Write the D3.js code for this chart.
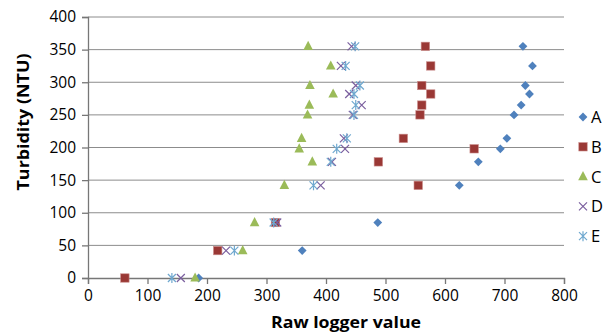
<!DOCTYPE html>
<html>
<head>
<meta charset="utf-8">
<script src="https://cdn.jsdelivr.net/npm/d3@7"></script>
<style>
  body { margin: 0; background: #fff; }
  text { font-family: "Open Sans", "Noto Sans", sans-serif; }
</style>
</head>
<body>
<div id="chart"></div>
<script>
// turbidity standards (NTU) and the raw logger readings for each logger
const turbidity = [0, 42, 85, 142, 178, 198, 214, 250, 265, 282, 295, 325, 355];
const loggerA = [186, 360, 487, 624, 656, 693, 704, 716, 728, 742, 735, 747, 731];
const loggerB = [62, 218, 315, 555, 488, 649, 530, 558, 561, 576, 561, 576, 567];
const loggerC = [180, 260, 280, 330, 377, 355, 359, 369, 372, 412, 373, 408, 370];
const loggerD = [156, 232, 318, 391, 410, 432, 430, 445, 460, 439, 450, 425, 443];
const loggerE = [141, 246, 312, 379, 408, 418, 435, 447, 450, 447, 457, 433, 449];
const seriesNames = ["A", "B", "C", "D", "E"];
const xTicks = [0, 100, 200, 300, 400, 500, 600, 700, 800];
const yTicks = [0, 50, 100, 150, 200, 250, 300, 350, 400];

const margin = { top: 17, right: 44, bottom: 55, left: 88 };

const svg = d3.select("#chart")
    .append("svg")
    .attr("width", 610)
    .attr("height", 333);

const g = svg.append("g")
    .attr("transform", "translate(" + margin.left + "," + margin.top + ")");

const x = d3.scaleLinear().domain([0, 800]).range([0, 476]);
const y = d3.scaleLinear().domain([0, 400]).range([261, 0]);

// gridlines
g.selectAll(".grid")
    .data(yTicks.slice(1))
    .enter()
    .append("line")
    .attr("x1", 0)
    .attr("x2", x(800))
    .attr("y1", d => y(d))
    .attr("y2", d => y(d))
    .attr("stroke", "#8c8c8c")
    .attr("stroke-width", 1);

const yAxis = g.append("g")
    .call(d3.axisLeft(y).tickValues(yTicks).tickSize(6).tickPadding(6));
const xAxis = g.append("g")
    .attr("transform", "translate(0," + y(0) + ")")
    .call(d3.axisBottom(x).tickValues(xTicks).tickSize(6).tickPadding(6));

[xAxis, yAxis].forEach(a => {
    a.select(".domain").attr("stroke", "#777").attr("stroke-width", 1.3);
    a.selectAll(".tick line").attr("stroke", "#777").attr("stroke-width", 1.3);
    a.selectAll("text").attr("fill", "#000").style("font-size", "15.5px")
        .style("font-family", "'Open Sans', 'Noto Sans', sans-serif");
});
xAxis.select(".domain").attr("d", "M0.5,6V0.5H" + (x(800) + 0.5) + "V6");
yAxis.select(".domain").attr("d", "M-6,0.5H0.5V" + (y(0) + 0.5) + "H-6");

svg.append("text")
    .attr("x", 346)
    .attr("y", 327.5)
    .attr("text-anchor", "middle")
    .attr("textLength", 150)
    .attr("lengthAdjust", "spacingAndGlyphs")
    .style("font-size", "16px")
    .style("font-weight", "bold")
    .text("Raw logger value");

svg.append("text")
    .attr("transform", "translate(28.5,122) rotate(-90)")
    .attr("text-anchor", "middle")
    .attr("textLength", 137)
    .attr("lengthAdjust", "spacingAndGlyphs")
    .style("font-size", "16.5px")
    .style("font-weight", "bold")
    .text("Turbidity (NTU)");

// marker drawers
function diamond(sel) {
    sel.append("path").attr("d", "M0,-4.4L4.4,0L0,4.4L-4.4,0Z").attr("fill", "#4F81BD");
}
function square(sel) {
    sel.append("rect").attr("x", -4.2).attr("y", -4.2).attr("width", 8.4).attr("height", 8.4)
        .attr("fill", "#9A3835").attr("stroke", "#c98a88").attr("stroke-width", 0.6);
}
function triangle(sel) {
    sel.append("path").attr("d", "M0,-5.5L4.8,3.6L-4.8,3.6Z").attr("fill", "#9BBB59");
}
function cross(sel) {
    sel.append("path").attr("d", "M-4,-4L4,4M-4,4L4,-4")
        .attr("stroke", "#7A5E9E").attr("stroke-width", 1.2).attr("fill", "none");
}
function star(sel) {
    sel.append("path").attr("d", "M-4,-4L4,4M-4,4L4,-4M0,-5L0,5")
        .attr("stroke", "#6FA8CF").attr("stroke-width", 1.2).attr("fill", "none");
}

const series = [
    { name: "A", values: loggerA, draw: diamond },
    { name: "B", values: loggerB, draw: square },
    { name: "C", values: loggerC, draw: triangle },
    { name: "D", values: loggerD, draw: cross },
    { name: "E", values: loggerE, draw: star }
];

series.forEach(s => {
    const pts = g.append("g").selectAll("g")
        .data(s.values.map((v, i) => [v, turbidity[i]]))
        .enter()
        .append("g")
        .attr("transform", d => "translate(" + x(d[0]) + "," + y(d[1]) + ")");
    s.draw(pts);
});

// legend
const legend = svg.append("g").attr("transform", "translate(583,117)");
series.forEach((s, i) => {
    const item = legend.append("g").attr("transform", "translate(0," + (i * 29.8) + ")");
    s.draw(item.append("g"));
    item.append("text")
        .attr("x", 8)
        .attr("y", 6)
        .style("font-size", "16.5px")
        .text(seriesNames[i]);
});
</script>
</body>
</html>
